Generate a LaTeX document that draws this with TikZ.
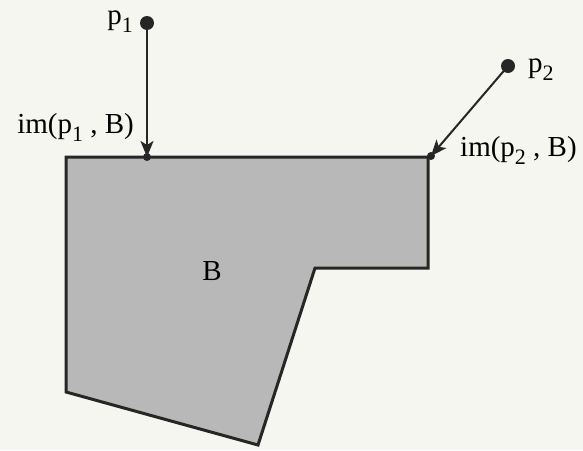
\documentclass[tikz,border=0pt]{standalone}
\usepackage{fontspec}
\setmainfont{Liberation Serif}
\usetikzlibrary{arrows.meta}
\newcommand{\sbs}[1]{\raisebox{-0.6ex}{\fontsize{22}{22}\selectfont #1}}
\begin{document}
\begin{tikzpicture}[x=1pt,y=-1pt,
  lbl/.style={font=\fontsize{29}{32}\selectfont, inner sep=0pt},
  pt/.style={circle, fill=black!85, inner sep=0pt, minimum size=14pt},
  foot/.style={circle, fill=black!85, inner sep=0pt, minimum size=8pt},
  ray/.style={line width=2pt, draw=black!85, -{Stealth[length=16pt,width=13pt,inset=4pt]}},
  body/.style={draw=black!85, line width=3pt, line join=miter, fill=black!28}]
\fill[fill={rgb,255:red,246;green,246;blue,240}] (0,0) rectangle (583,450);
\useasboundingbox (0,0) rectangle (583,450);
\draw[body] (66,157) -- (428,157) -- (428,268) -- (315,268) -- (258,445) -- (66,392) -- cycle;
\node[lbl] (B) at (212,271) {B};
\node[pt] (p1) at (147,23) {};
\node[pt] (p2) at (508,66) {};
\coordinate (q1) at (147,157);
\coordinate (q2) at (431,156);
\node[foot] (f1) at (q1) {};
\node[foot] (f2) at (q2) {};
\draw[ray] (p1.center) -- (q1);
\draw[ray] (p2.center) -- (q2);
\node[lbl, anchor=east] (lp1) at (133,22) {p\sbs{1}};
\node[lbl, anchor=west] (lp2) at (528,70) {p\sbs{2}};
\node[lbl, anchor=east] (lq1) at (134,127) {im(p\sbs{1} , B)};
\node[lbl, anchor=west] (lq2) at (460,150) {im(p\sbs{2} , B)};
\end{tikzpicture}
\end{document}
